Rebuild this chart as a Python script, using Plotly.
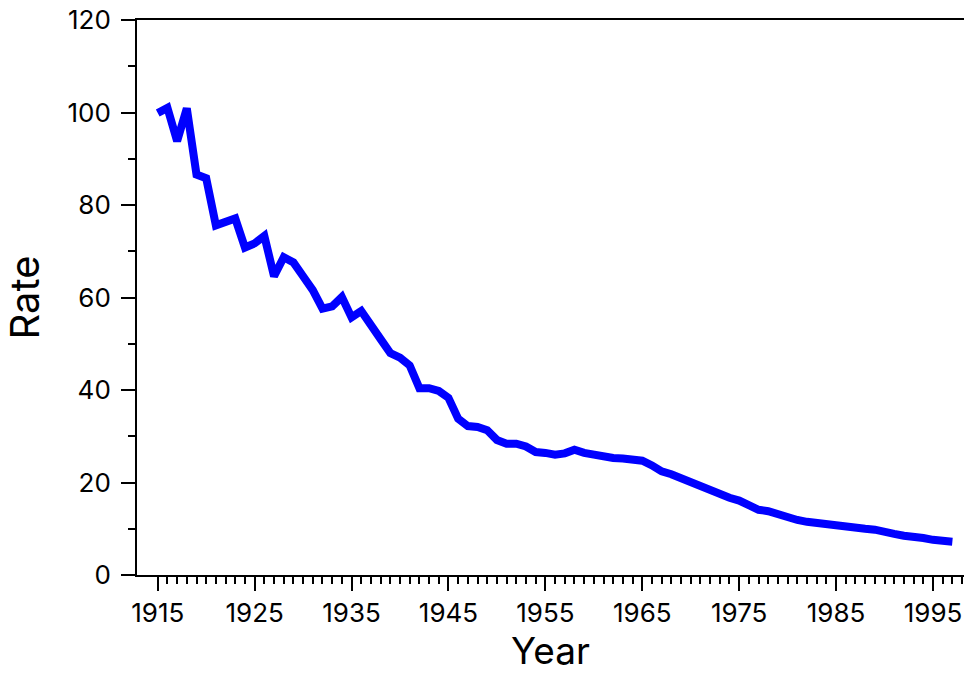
import plotly.graph_objects as go

years = list(range(1915, 1998))
rate = [99.9, 101.0, 93.8, 100.9, 86.6, 85.8, 75.6, 76.2, 77.1, 70.8,
        71.7, 73.3, 64.6, 68.7, 67.6, 64.6, 61.6, 57.6, 58.1, 60.1,
        55.7, 57.1, 54.4, 51.0, 48.0, 47.0, 45.3, 40.4, 40.4, 39.8,
        38.3, 33.8, 32.2, 32.0, 31.3, 29.2, 28.4, 28.4, 27.8, 26.6,
        26.4, 26.0, 26.3, 27.1, 26.4, 26.0, 25.3, 25.3, 25.2, 24.8,
        24.7, 23.7, 22.4, 21.8, 20.9, 20.0, 19.1, 18.5, 17.7, 16.7,
        16.1, 15.2, 14.1, 13.8, 13.1, 12.6, 11.9, 11.5, 11.2, 10.8,
        10.6, 10.4, 10.1, 10.0, 9.8, 9.2, 8.9, 8.5, 8.4, 8.0,
        7.6, 7.3, 7.2]

x_major = list(range(1915, 2000, 10))
x_minor = [y for y in range(1915, 1999) if y not in x_major]

FONT = "Inter"

fig = go.Figure()
fig.add_trace(go.Scatter(x=years, y=rate, mode="lines",
                         line=dict(color="#0000FF", width=8, shape="linear"),
                         hoverinfo="skip"))

fig.update_layout(
    width=964, height=673,
    margin=dict(l=137, r=0, t=20, b=98, autoexpand=False),
    paper_bgcolor="white", plot_bgcolor="white",
    showlegend=False,
    font=dict(family=FONT, color="black"),
    annotations=[dict(text="Year", xref="paper", yref="paper", x=0.5, y=-0.136,
                      xanchor="center", yanchor="middle", showarrow=False,
                      font=dict(family=FONT, size=37, color="black"))],
)

fig.update_xaxes(
    range=[1912.86, 1998.2], automargin=False,
    tickmode="array", tickvals=x_major, ticktext=[str(v) for v in x_major],
    ticks="outside", ticklen=14, tickwidth=2, tickcolor="black",
    minor=dict(tickmode="array", tickvals=x_minor, ticks="outside",
               ticklen=7, tickwidth=1.5, tickcolor="black", showgrid=False),
    showline=True, linecolor="black", linewidth=2, mirror=True,
    showgrid=False, zeroline=False,
    tickfont=dict(family=FONT, size=26, color="black"),
    ticklabelstandoff=0,
)

fig.update_yaxes(
    range=[0, 120], tick0=0, dtick=20, automargin=False,
    ticks="outside", ticklen=14, tickwidth=2, tickcolor="black",
    minor=dict(dtick=10, tick0=0, ticks="outside", ticklen=7, tickwidth=1.5,
               tickcolor="black", showgrid=False),
    showline=True, linecolor="black", linewidth=2, mirror=False,
    showgrid=False, zeroline=False,
    tickfont=dict(family=FONT, size=26, color="black"),
    ticklabelstandoff=5,
    title=dict(text="Rate", font=dict(family=FONT, size=40, color="black"), standoff=16),
)

fig.write_html("out.html",
               config={"displayModeBar": False},
               post_script="document.body.style.margin='0';document.body.style.overflow='hidden';")
